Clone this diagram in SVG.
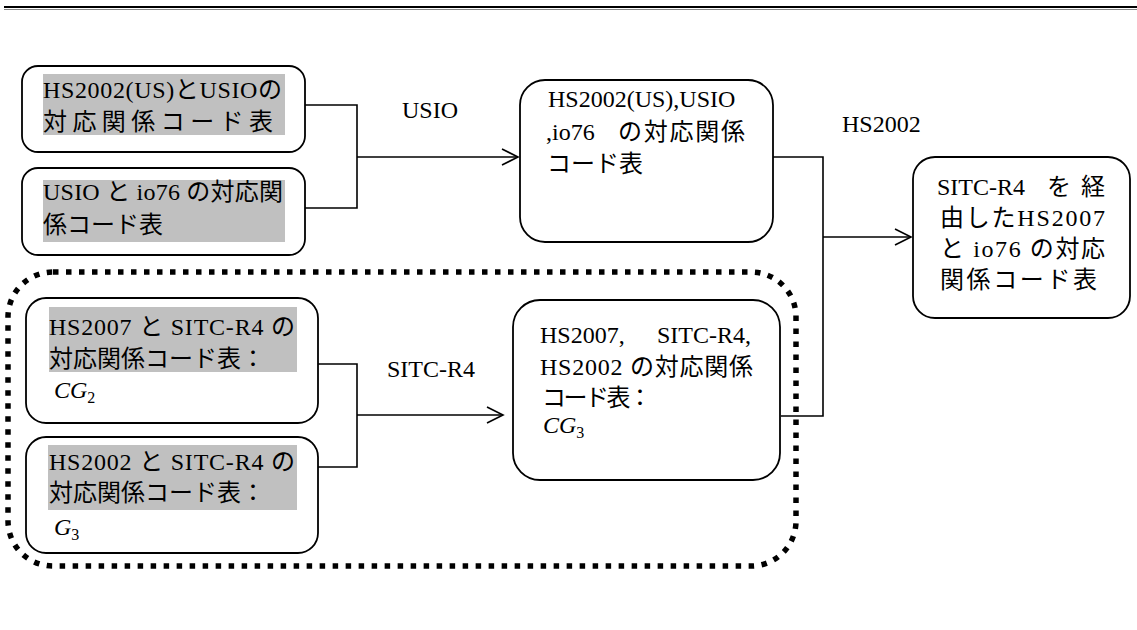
<svg xmlns="http://www.w3.org/2000/svg" width="1137" height="630" viewBox="0 0 1137 630">
<style>
.box{fill:#fff;stroke:#000;stroke-width:1.8}
.hl{fill:#c0c0c0}
.t{font-family:"Liberation Serif","Noto Sans CJK JP",serif;font-size:24px;fill:#000}
.it{font-style:italic}
.sub{font-size:16px}
.con{fill:none;stroke:#000;stroke-width:1.6}
.frame{fill:none;stroke:#000;stroke-width:5.5;stroke-dasharray:5.5 7.5}
</style>
<defs>
<marker id="chev" markerWidth="20" markerHeight="20" refX="17" refY="9" orient="auto" markerUnits="userSpaceOnUse">
<path d="M1,1 L17,9 L1,17" fill="none" stroke="#000" stroke-width="1.6"/>
</marker>
</defs>
<rect width="1137" height="630" fill="#fff"/>
<line x1="4" y1="7" x2="1137" y2="7" stroke="#000" stroke-width="2"/>
<line x1="4" y1="9.5" x2="1137" y2="9.5" stroke="#888" stroke-width="1"/>

<g id="group-frame">
<rect class="frame" x="8" y="272" width="788" height="294" rx="45" ry="45"/>
</g>

<g id="connectors">
<polyline class="con" points="305,105 357,105 357,208 305,208"/>
<line class="con" x1="357" y1="157" x2="518" y2="157" marker-end="url(#chev)"/>
<polyline class="con" points="773,157 823,157 823,416 781,416"/>
<line class="con" x1="823" y1="237" x2="911" y2="237" marker-end="url(#chev)"/>
<polyline class="con" points="318,364 357,364 357,467 318,467"/>
<line class="con" x1="357" y1="415" x2="503" y2="415" marker-end="url(#chev)"/>
<text class="t" x="402" y="118">USIO</text>
<text class="t" x="842" y="132">HS2002</text>
<text class="t" x="387" y="377">SITC-R4</text>
</g>

<g id="n1">
<rect class="box" x="22" y="66" width="283" height="86" rx="16"/>
<rect class="hl" x="43" y="74" width="242" height="61"/>
<text class="t" x="43" y="98" textLength="239" lengthAdjust="spacing">HS2002(US)とUSIOの</text>
<text class="t" x="43" y="130" textLength="230" lengthAdjust="spacing">対応関係コード表</text>
</g>

<g id="n2">
<rect class="box" x="22" y="168" width="283" height="87" rx="16"/>
<rect class="hl" x="43" y="180" width="242" height="62"/>
<text class="t" x="43" y="200" textLength="240" lengthAdjust="spacing">USIO と io76 の対応関</text>
<text class="t" x="43" y="233">係コード表</text>
</g>

<g id="n3">
<rect class="box" x="520" y="80" width="253" height="162" rx="25"/>
<text class="t" x="548" y="107">HS2002(US),USIO</text>
<text class="t" x="546" y="140">,io76</text>
<text class="t" x="618" y="140" textLength="127" lengthAdjust="spacing">の対応関係</text>
<text class="t" x="547" y="172">コード表</text>
</g>

<g id="n4">
<rect class="box" x="913" y="157" width="217" height="161" rx="22"/>
<text class="t" x="937" y="195">SITC-R4</text>
<text class="t" x="1047" y="195" textLength="58" lengthAdjust="spacing">を経</text>
<text class="t" x="940" y="226" textLength="165" lengthAdjust="spacing">由したHS2007</text>
<text class="t" x="940" y="257" textLength="165" lengthAdjust="spacing">と io76 の対応</text>
<text class="t" x="940" y="288" textLength="157" lengthAdjust="spacing">関係コード表</text>
</g>

<g id="n5">
<rect class="box" x="26" y="298" width="292" height="125" rx="20"/>
<rect class="hl" x="49" y="307" width="248" height="65"/>
<text class="t" x="49" y="335" textLength="246" lengthAdjust="spacing">HS2007 と SITC-R4 の</text>
<text class="t" x="49" y="367" textLength="216" lengthAdjust="spacing">対応関係コード表：</text>
<text class="t" x="54" y="398"><tspan class="it">CG</tspan><tspan class="sub" dy="5">2</tspan></text>
</g>

<g id="n6">
<rect class="box" x="26" y="437" width="292" height="116" rx="20"/>
<rect class="hl" x="48" y="445" width="249" height="65"/>
<text class="t" x="49" y="470" textLength="246" lengthAdjust="spacing">HS2002 と SITC-R4 の</text>
<text class="t" x="49" y="501" textLength="216" lengthAdjust="spacing">対応関係コード表：</text>
<text class="t" x="54" y="535"><tspan class="it">G</tspan><tspan class="sub" dy="5">3</tspan></text>
</g>

<g id="n7">
<rect class="box" x="513" y="300" width="267" height="180" rx="27"/>
<text class="t" x="540" y="343">HS2007,</text>
<text class="t" x="657" y="343">SITC-R4,</text>
<text class="t" x="540" y="375" textLength="213" lengthAdjust="spacing">HS2002 の対応関係</text>
<text class="t" x="542" y="406" textLength="110" lengthAdjust="spacing">コード表：</text>
<text class="t" x="543" y="433"><tspan class="it">CG</tspan><tspan class="sub" dy="5">3</tspan></text>
</g>
</svg>
